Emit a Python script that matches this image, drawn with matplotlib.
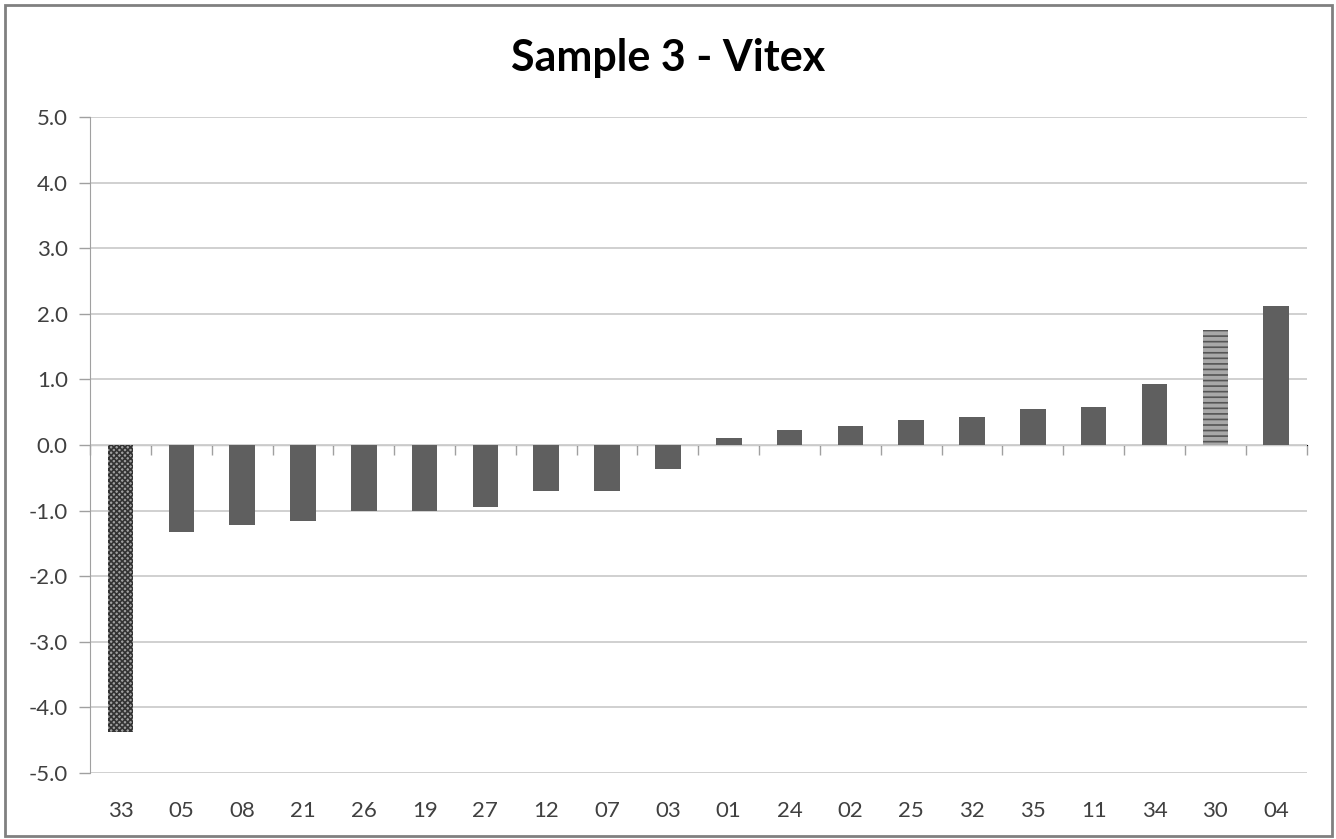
import matplotlib
matplotlib.use("Agg")
import matplotlib.pyplot as plt
from matplotlib.patches import Rectangle

plt.rcParams['font.family'] = ['Lato', 'DejaVu Sans']
plt.rcParams['hatch.linewidth'] = 1.2

# sample ids in plotted order and their scores
samples = ["33", "05", "08", "21", "26", "19", "27", "12", "07", "03",
           "01", "24", "02", "25", "32", "35", "11", "34", "30", "04"]
scores = [-4.37, -1.33, -1.22, -1.16, -1.01, -1.00, -0.95, -0.70, -0.70, -0.36,
          0.10, 0.23, 0.29, 0.38, 0.43, 0.55, 0.58, 0.93, 1.75, 2.12]
y_ticks = [-5.0, -4.0, -3.0, -2.0, -1.0, 0.0, 1.0, 2.0, 3.0, 4.0, 5.0]

fig = plt.figure(figsize=(13.36, 8.39), dpi=100)
fig.patches.append(Rectangle((0.004, 0.004), 0.993, 0.99, transform=fig.transFigure,
                             fill=False, edgecolor="#808080", linewidth=2))
ax = fig.add_axes([0.0674, 0.0787, 0.9106, 0.7818])

x = list(range(len(samples)))
bars = ax.bar(x, scores, width=0.42, color="#5f5f5f", edgecolor="none", zorder=3)

# special bars: checkered and striped
bars[0].set_facecolor("#a0a0a0")
bars[0].set_hatch("xxxxxx")
bars[0].set_edgecolor("#333333")
bars[0].set_linewidth(0)
bars[18].set_facecolor("#a8a8a8")
bars[18].set_hatch("---")
bars[18].set_edgecolor("#555555")
bars[18].set_linewidth(0)

ax.set_xlim(-0.5, len(samples) - 0.5)
ax.set_ylim(-5, 5)
ax.set_yticks(y_ticks)
ax.set_yticklabels([f"{v:.1f}" for v in y_ticks])
ax.set_xticks(x)
ax.set_xticklabels(samples)
ax.tick_params(axis="x", length=0, pad=20, labelsize=16, colors="#404040")
ax.tick_params(axis="y", length=8, width=1, color="#a0a0a0", pad=8,
               labelsize=16, labelcolor="#404040")

ax.grid(axis="y", color="#d0d0d0", linewidth=1.4, zorder=0)
for s in ["top", "right", "bottom"]:
    ax.spines[s].set_visible(False)
ax.spines["left"].set_color("#a0a0a0")

# category axis line with boundary ticks sits on zero
zero_axis = ax.secondary_xaxis(0.5)
zero_axis.set_xticks([i + 0.5 for i in range(-1, len(samples))])
zero_axis.set_xticklabels([])
zero_axis.tick_params(axis="x", length=7, width=1, color="#a0a0a0", direction="in")
zero_axis.spines["bottom"].set_color("#d0d0d0")
zero_axis.spines["bottom"].set_linewidth(1.6)

fig.text(0.5, 0.931, "Sample 3 - Vitex", ha="center", va="center",
         fontsize=31, fontweight="bold")

fig.savefig("out.png", dpi=100)
